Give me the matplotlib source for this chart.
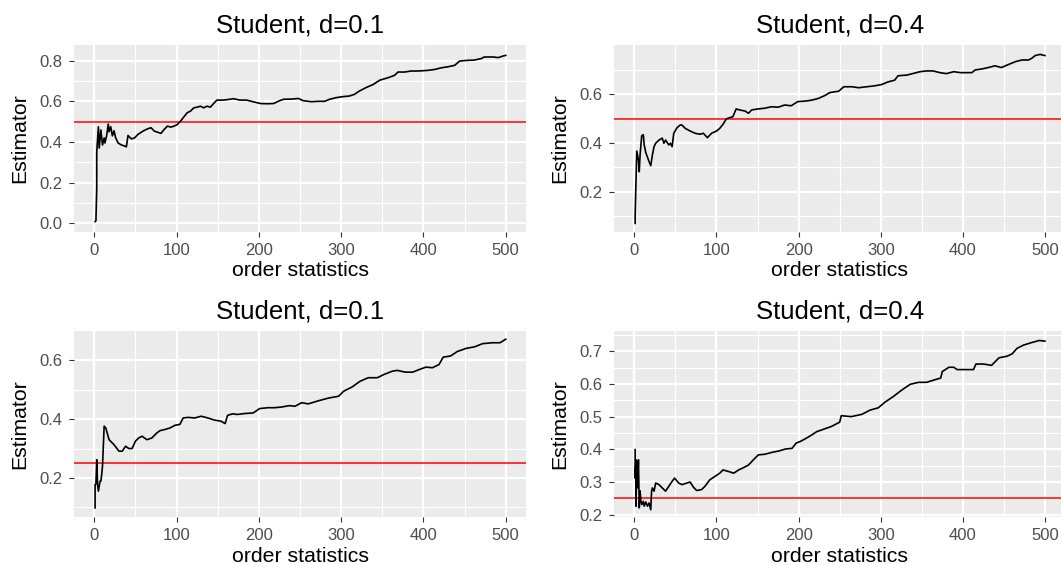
import matplotlib
matplotlib.use("Agg")
import matplotlib.pyplot as plt
from matplotlib.ticker import MultipleLocator, FixedLocator

plt.rcParams["font.family"] = ["Liberation Sans", "DejaVu Sans"]

# (order statistic, estimator) pairs for each simulation
tl_points = [
    (1, 0.008), (2, 0.012), (3, 0.17), (3, 0.352), (5, 0.475), (6, 0.37), (8, 0.459),
    (10, 0.385), (12, 0.42), (13, 0.395), (15, 0.43), (17, 0.488), (18, 0.45),
    (20, 0.475), (22, 0.43), (24, 0.455), (26, 0.42), (29, 0.395), (33, 0.385),
    (37, 0.38), (39, 0.376), (41, 0.432), (45, 0.415), (49, 0.42), (53, 0.437),
    (59, 0.453), (65, 0.465), (69, 0.47), (73, 0.453), (77, 0.448), (81, 0.442),
    (85, 0.462), (89, 0.478), (93, 0.473), (97, 0.478), (101, 0.486), (105, 0.503),
    (109, 0.524), (113, 0.544), (117, 0.552), (121, 0.568), (125, 0.571), (129, 0.576),
    (133, 0.568), (137, 0.576), (141, 0.571), (145, 0.589), (149, 0.606), (157, 0.606),
    (165, 0.61), (169, 0.613), (177, 0.606), (185, 0.606), (193, 0.598), (202, 0.589),
    (210, 0.588), (218, 0.589), (224, 0.601), (230, 0.61), (240, 0.611), (248, 0.614),
    (254, 0.603), (264, 0.598), (272, 0.6), (280, 0.6), (286, 0.61), (294, 0.618),
    (302, 0.623), (310, 0.626), (316, 0.634), (322, 0.65), (330, 0.667), (339, 0.683),
    (347, 0.704), (357, 0.716), (365, 0.728), (369, 0.744), (377, 0.744), (385, 0.749),
    (393, 0.749), (405, 0.752), (414, 0.757), (422, 0.765), (430, 0.77), (438, 0.777),
    (444, 0.798), (452, 0.801), (462, 0.803), (470, 0.81), (474, 0.818), (485, 0.818),
    (491, 0.815), (497, 0.823), (500, 0.826),
]

tr_points = [
    (1, 0.07), (1, 0.104), (2, 0.241), (3, 0.367), (5, 0.33), (6, 0.282), (7, 0.351),
    (9, 0.43), (11, 0.434), (12, 0.392), (14, 0.36), (18, 0.323), (20, 0.307),
    (22, 0.351), (24, 0.385), (26, 0.399), (30, 0.412), (34, 0.42), (36, 0.399),
    (38, 0.412), (42, 0.392), (44, 0.399), (46, 0.385), (48, 0.44), (52, 0.463),
    (56, 0.474), (58, 0.474), (62, 0.46), (68, 0.449), (74, 0.44), (80, 0.436),
    (84, 0.44), (89, 0.422), (94, 0.44), (100, 0.449), (104, 0.46), (108, 0.477),
    (112, 0.499), (116, 0.504), (120, 0.508), (124, 0.54), (128, 0.536), (135, 0.531),
    (139, 0.522), (143, 0.536), (151, 0.54), (159, 0.543), (167, 0.549), (175, 0.547),
    (183, 0.556), (191, 0.553), (199, 0.57), (208, 0.572), (216, 0.576), (224, 0.583),
    (232, 0.595), (238, 0.607), (249, 0.613), (255, 0.631), (265, 0.631), (273, 0.627),
    (283, 0.631), (293, 0.635), (301, 0.64), (309, 0.651), (317, 0.658), (321, 0.676),
    (332, 0.679), (340, 0.686), (348, 0.693), (356, 0.696), (364, 0.696), (372, 0.689),
    (380, 0.685), (389, 0.693), (397, 0.689), (411, 0.689), (415, 0.7), (423, 0.704),
    (431, 0.71), (439, 0.717), (447, 0.71), (456, 0.723), (464, 0.734), (472, 0.741),
    (480, 0.741), (484, 0.748), (488, 0.759), (494, 0.764), (500, 0.759),
]

bl_points = [
    (1, 0.098), (1, 0.177), (2, 0.18), (3, 0.262), (4, 0.177), (5, 0.155), (7, 0.189),
    (8, 0.189), (9, 0.211), (10, 0.24), (12, 0.376), (14, 0.37), (18, 0.33),
    (24, 0.313), (30, 0.291), (34, 0.291), (38, 0.308), (42, 0.3), (46, 0.3),
    (50, 0.325), (54, 0.336), (58, 0.342), (64, 0.33), (70, 0.336), (76, 0.353),
    (80, 0.361), (86, 0.365), (92, 0.37), (98, 0.379), (104, 0.382), (108, 0.404),
    (114, 0.406), (122, 0.404), (130, 0.41), (138, 0.404), (146, 0.397), (154, 0.393),
    (159, 0.385), (162, 0.413), (168, 0.418), (174, 0.416), (182, 0.419), (193, 0.421),
    (201, 0.436), (211, 0.439), (219, 0.439), (227, 0.441), (237, 0.446), (244, 0.444),
    (252, 0.456), (260, 0.452), (273, 0.463), (285, 0.472), (297, 0.478), (303, 0.495),
    (313, 0.509), (323, 0.529), (333, 0.541), (344, 0.541), (352, 0.552), (362, 0.563),
    (368, 0.566), (378, 0.56), (387, 0.56), (395, 0.569), (403, 0.577), (411, 0.575),
    (419, 0.586), (424, 0.611), (433, 0.615), (441, 0.63), (452, 0.641), (462, 0.646),
    (472, 0.657), (484, 0.66), (493, 0.66), (500, 0.672),
]

br_points = [
    (1, 0.399), (1, 0.312), (2, 0.368), (2, 0.226), (3, 0.363), (4, 0.282), (5, 0.368),
    (6, 0.221), (7, 0.273), (8, 0.241), (9, 0.231), (11, 0.241), (12, 0.226),
    (14, 0.239), (16, 0.226), (18, 0.236), (20, 0.215), (21, 0.272), (22, 0.282),
    (24, 0.272), (26, 0.297), (30, 0.292), (34, 0.282), (38, 0.272), (42, 0.287),
    (46, 0.302), (49, 0.312), (54, 0.297), (58, 0.292), (64, 0.297), (68, 0.3),
    (72, 0.284), (76, 0.274), (82, 0.277), (86, 0.287), (92, 0.307), (98, 0.317),
    (104, 0.327), (108, 0.337), (115, 0.332), (121, 0.327), (127, 0.337), (133, 0.344),
    (139, 0.352), (145, 0.368), (151, 0.383), (159, 0.385), (168, 0.391), (176, 0.395),
    (184, 0.401), (192, 0.403), (197, 0.419), (202, 0.424), (208, 0.432), (216, 0.444),
    (222, 0.454), (231, 0.462), (240, 0.47), (250, 0.483), (252, 0.503), (264, 0.5),
    (277, 0.507), (287, 0.52), (297, 0.527), (305, 0.544), (315, 0.561), (326, 0.582),
    (336, 0.599), (346, 0.605), (356, 0.605), (366, 0.613), (373, 0.618), (375, 0.638),
    (383, 0.651), (389, 0.651), (393, 0.644), (413, 0.644), (416, 0.661), (425, 0.661),
    (435, 0.657), (444, 0.68), (454, 0.685), (460, 0.692), (466, 0.709), (474, 0.719),
    (483, 0.726), (493, 0.733), (500, 0.731),
]

titles = ["Student, d=0.1", "Student, d=0.4", "Student, d=0.1", "Student, d=0.4"]
reference_levels = [0.5, 0.5, 0.25, 0.25]
x_ticks = [0, 100, 200, 300, 400, 500]
y_major = [
    [0.0, 0.2, 0.4, 0.6, 0.8],
    [0.2, 0.4, 0.6],
    [0.2, 0.4, 0.6],
    [0.2, 0.3, 0.4, 0.5, 0.6, 0.7],
]
y_minor = [
    [0.1, 0.3, 0.5, 0.7],
    [0.1, 0.3, 0.5, 0.7],
    [0.1, 0.3, 0.5],
    [0.25, 0.35, 0.45, 0.55, 0.65, 0.75],
]
y_limits = [(-0.043, 0.877), (0.0345, 0.8025), (0.067, 0.70), (0.193, 0.762)]

W, H = 1061, 565
fig = plt.figure(figsize=(W / 100, H / 100), dpi=100)

# panel boxes in pixels: left, top, right, bottom
boxes = [
    (73.7, 45, 526.3, 232),
    (613.8, 45, 1065.5, 232),
    (73.7, 331, 526.3, 517),
    (613.8, 331, 1065.5, 517),
]
series = [tl_points, tr_points, bl_points, br_points]
ylabel_x = [20, 560, 20, 560]

for i, (l, t, r, b) in enumerate(boxes):
    ax = fig.add_axes([l / W, 1 - b / H, (r - l) / W, (b - t) / H])
    ax.set_facecolor("#EBEBEB")
    for s in ax.spines.values():
        s.set_visible(False)
    ax.set_xlim(-25, 525)
    ax.set_ylim(*y_limits[i])
    ax.xaxis.set_major_locator(FixedLocator(x_ticks))
    ax.xaxis.set_minor_locator(MultipleLocator(50))
    ax.yaxis.set_major_locator(FixedLocator(y_major[i]))
    ax.yaxis.set_minor_locator(FixedLocator(y_minor[i]))
    ax.set_xticklabels([str(v) for v in x_ticks])
    ax.set_yticklabels([f"{v:.1f}" for v in y_major[i]])
    ax.grid(which="major", color="white", linewidth=1.6)
    ax.grid(which="minor", color="white", linewidth=0.8)
    ax.set_axisbelow(True)
    ax.tick_params(which="major", length=3.9, width=0.8, color="#333333",
                   pad=4.0, labelsize=12.0, labelcolor="#4D4D4D")
    ax.tick_params(which="minor", length=0)

    xs = [p[0] for p in series[i]]
    ys = [p[1] for p in series[i]]
    ax.axhline(reference_levels[i], color="red", linewidth=1.1, zorder=2)
    ax.plot(xs, ys, color="black", linewidth=1.2, zorder=3)

    cx = (l + r) / 2
    fig.text(cx / W, 1 - (t - 20) / H, titles[i], ha="center", va="center",
             fontsize=18.5, color="black")
    fig.text(cx / W, 1 - (b + 39) / H, "order statistics", ha="center",
             va="center", fontsize=15.3, color="black")
    fig.text(ylabel_x[i] / W, 1 - ((t + b) / 2) / H, "Estimator", ha="center",
             va="center", rotation=90, fontsize=15.3, color="black")

fig.savefig("out.png", dpi=100, facecolor="white")
